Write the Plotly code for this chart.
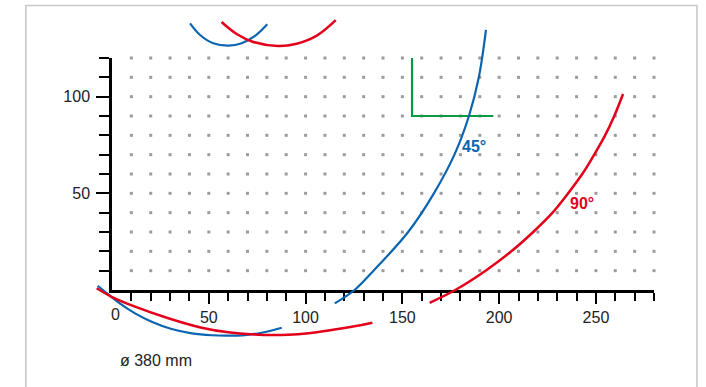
import plotly.graph_objects as go

# ---- data ----
x_major = [50, 100, 150, 200, 250]
x_major_text = ["50", "100", "150", "200", "250"]
x_minor = [10, 20, 30, 40, 60, 70, 80, 90, 110, 120, 130, 140, 160, 170, 180, 190,
           210, 220, 230, 240, 260, 270, 280]
y_major = [50, 100]
y_major_text = ["50", "100"]
y_minor = [10, 20, 30, 40, 60, 70, 80, 90, 110, 120]

grid_x = [10, 20, 30, 40, 50, 60, 70, 80, 90, 100, 110, 120, 130, 140, 150, 160, 170,
          180, 190, 200, 210, 220, 230, 240, 250, 260, 270, 280]
grid_y = [10, 20, 30, 40, 50, 60, 70, 80, 90, 100, 110, 120]

# 45 degree bend (blue), main arc
blue_main_x = [115.1, 125.3, 135.1, 153.0, 166.3, 176.9, 184.4, 189.5, 193.2]
blue_main_y = [-6.9, 0.0, 10.0, 30.0, 50.0, 70.0, 90.0, 110.0, 134.5]
# 90 degree bend (red), main arc
red_main_x = [164.1, 177.3, 193.0, 206.3, 217.6, 227.6, 233.0, 243.2, 248.5, 254.4, 259.3, 264.0]
red_main_y = [-6.6, 0.0, 10.0, 20.0, 30.0, 40.0, 46.6, 60.4, 69.0, 79.3, 89.6, 101.4]
# lower arcs
blue_low_x = [-7.4, -3.6, 3.3, 11.9, 20.5, 30.8, 41.2, 51.5, 60.1, 68.7, 77.3, 87.7]
blue_low_y = [2.2, -0.9, -6.4, -12.1, -16.4, -20.2, -22.4, -23.4, -23.6, -23.3, -22.1, -19.5]
red_low_x = [-7.9, -0.2, 11.9, 29.1, 46.3, 60.1, 72.2, 82.5, 96.2, 124.5, 134.5]
red_low_y = [0.9, -3.5, -8.6, -14.6, -19.5, -21.9, -22.9, -23.3, -22.9, -18.9, -16.9]
# upper arcs
blue_up_x = [40.3, 45.5, 52.3, 60.1, 67.0, 73.9, 80.2]
blue_up_y = [137.9, 131.9, 127.6, 126.4, 127.6, 131.4, 137.4]
red_up_x = [56.6, 64.4, 73.0, 85.8, 95.4, 105.8, 115.6]
red_up_y = [138.6, 132.4, 128.3, 126.2, 127.4, 131.6, 139.6]
# green corner
green_x = [155, 155, 197]
green_y = [120, 90, 90]

BLUE = "#0a64b0"
RED = "#e3001b"
GREEN = "#0a9a45"
FONT = "Liberation Sans, Arial, sans-serif"

W, H = 706, 387
px_x0, px_x1 = 112, 654   # x = 0 .. 280
px_y0, px_y1 = 290, 58    # y = 0 .. 120
sx = (px_x1 - px_x0) / 280
sy = (px_y0 - px_y1) / 120

fig = go.Figure()

gx = [x for y in grid_y for x in grid_x]
gy = [y for y in grid_y for x in grid_x]
fig.add_trace(go.Scatter(x=gx, y=gy, mode="markers", xaxis="x", yaxis="y",
                         marker=dict(symbol="square", size=3, color="#9b9b9b"),
                         cliponaxis=False, hoverinfo="skip"))
fig.add_trace(go.Scatter(x=green_x, y=green_y, mode="lines", xaxis="x", yaxis="y",
                         line=dict(color=GREEN, width=2.2), hoverinfo="skip"))

curves = [
    (blue_main_x, blue_main_y, BLUE, 2.2),
    (red_main_x, red_main_y, RED, 2.5),
    (blue_low_x, blue_low_y, BLUE, 2.2),
    (red_low_x, red_low_y, RED, 2.5),
    (blue_up_x, blue_up_y, BLUE, 2.2),
    (red_up_x, red_up_y, RED, 2.5),
]
for cx, cy, col, w in curves:
    fig.add_trace(go.Scatter(x=cx, y=cy, mode="lines", xaxis="x2", yaxis="y2",
                             line=dict(color=col, width=w, shape="spline", smoothing=1.0),
                             hoverinfo="skip"))

tickfont = dict(family=FONT, size=16, color="#222222")

fig.update_layout(
    width=W, height=H,
    margin=dict(l=0, r=0, t=0, b=0),
    paper_bgcolor="white",
    plot_bgcolor="rgba(0,0,0,0)",
    showlegend=False,
    xaxis=dict(domain=[px_x0 / W, px_x1 / W], range=[0, 280], anchor="y",
               showline=True, linecolor="black", linewidth=2.5, showgrid=False, zeroline=False,
               ticks="outside", ticklen=11, tickwidth=2, tickcolor="black",
               tickmode="array", tickvals=x_major, ticktext=x_major_text, tickfont=tickfont,
               minor=dict(tickmode="array", tickvals=x_minor, ticks="outside", ticklen=8,
                          tickwidth=2, tickcolor="black", showgrid=False)),
    yaxis=dict(domain=[(H - px_y0) / H, (H - px_y1) / H], range=[0, 120], anchor="x",
               showline=True, linecolor="black", linewidth=2.5, showgrid=False, zeroline=False,
               ticks="outside", ticklen=13, tickwidth=2, tickcolor="black",
               tickmode="array", tickvals=y_major, ticktext=y_major_text, tickfont=tickfont,
               ticklabelstandoff=3,
               minor=dict(tickmode="array", tickvals=y_minor, ticks="outside", ticklen=10,
                          tickwidth=2, tickcolor="black", showgrid=False)),
    xaxis2=dict(domain=[0, 1], range=[-px_x0 / sx, (W - px_x0) / sx], anchor="y2", visible=False),
    yaxis2=dict(domain=[0, 1], range=[-(H - px_y0) / sy, px_y0 / sy], anchor="x2", visible=False),
)

fig.add_shape(type="rect", xref="paper", yref="paper",
              x0=25.8 / W, x1=697 / W, y0=-0.05, y1=1 - 5.5 / H,
              line=dict(color="#c9c9c9", width=1.6), fillcolor="rgba(0,0,0,0)", layer="below")

fig.add_annotation(x=1.9, y=-12.9, xref="x2", yref="y2", text="0", showarrow=False,
                   font=tickfont, xanchor="center", yanchor="middle")
fig.add_annotation(x=186.8, y=74.0, xref="x2", yref="y2", text="<b>45°</b>", showarrow=False,
                   font=dict(family=FONT, size=16, color=BLUE), xanchor="center", yanchor="middle")
fig.add_annotation(x=242.8, y=44.5, xref="x2", yref="y2", text="<b>90°</b>", showarrow=False,
                   font=dict(family=FONT, size=16, color=RED), xanchor="center", yanchor="middle")
fig.add_annotation(x=3.0, y=-36.7, xref="x2", yref="y2", text="ø 380 mm", showarrow=False,
                   font=dict(family=FONT, size=16, color="#222222"), xanchor="left", yanchor="middle")

fig.write_html("out.html", config={"displayModeBar": False},
               post_script="document.body.style.margin='0px';document.body.style.overflow='hidden';")
